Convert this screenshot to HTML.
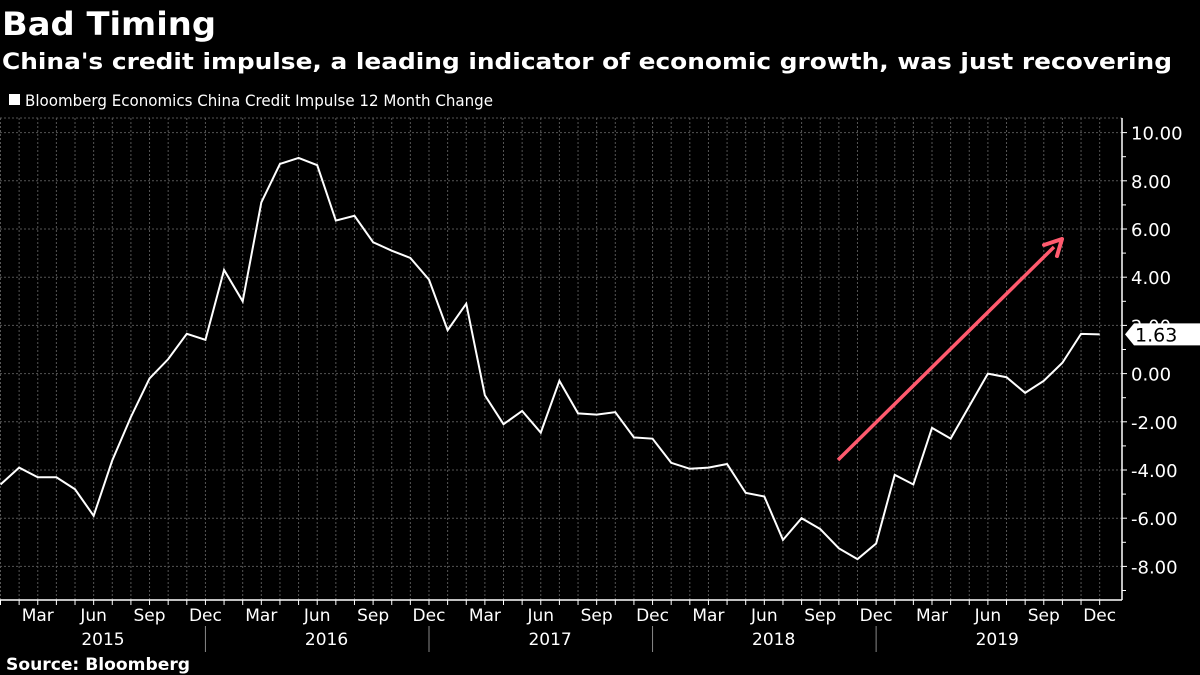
<!DOCTYPE html>
<html><head><meta charset="utf-8"><style>
html,body{margin:0;padding:0;background:#000;width:1200px;height:675px;overflow:hidden}
svg{display:block;font-family:"DejaVu Sans","Liberation Sans",sans-serif}
</style></head><body>
<svg id="chart" width="1200" height="675" viewBox="0 0 1200 675">
<text x="2" y="35" fill="#fff" font-size="32" font-weight="bold" textLength="214" lengthAdjust="spacingAndGlyphs">Bad Timing</text>
<text x="2" y="69" fill="#fff" font-size="22" font-weight="bold" textLength="1170" lengthAdjust="spacingAndGlyphs">China's credit impulse, a leading indicator of economic growth, was just recovering</text>
<rect x="9" y="94" width="11" height="11" fill="#fff"/>
<text x="25" y="106" fill="#fff" font-size="16" textLength="468" lengthAdjust="spacingAndGlyphs">Bloomberg Economics China Credit Impulse 12 Month Change</text>
<g id="grid"></g><g id="axes"></g><g id="series"></g>
<text x="6" y="670" fill="#fff" font-size="17" font-weight="bold" textLength="184" lengthAdjust="spacingAndGlyphs">Source: Bloomberg</text>
</svg>
<script>
const monthLabels=["Jan","Feb","Mar","Apr","May","Jun","Jul","Aug","Sep","Oct","Nov","Dec"];
const years=["2015","2016","2017","2018","2019"];
const yTicks=[10,8,6,4,2,0,-2,-4,-6,-8];
const values=[-4.6,-3.9,-4.3,-4.3,-4.8,-5.9,-3.6,-1.8,-0.2,0.6,1.65,1.4,
4.3,3.0,7.1,8.7,8.95,8.65,6.35,6.55,5.45,5.1,4.8,3.9,
1.8,2.9,-0.9,-2.1,-1.55,-2.45,-0.3,-1.65,-1.7,-1.6,-2.65,-2.7,
-3.7,-3.95,-3.9,-3.75,-4.95,-5.1,-6.9,-6.0,-6.45,-7.25,-7.7,-7.05,
-4.2,-4.6,-2.25,-2.7,-1.35,0.0,-0.15,-0.8,-0.3,0.45,1.65,1.63];
const lastLabel="1.63";
const NS="http://www.w3.org/2000/svg";
const X0=0.5,DX=18.63,Y0=373.6,DY=24.1,TOP=118,BOT=600,RIGHT=1122;
const xs=i=>X0+i*DX, ys=v=>Y0-v*DY;
function mk(t,a,p){const e=document.createElementNS(NS,t);for(const k in a)e.setAttribute(k,a[k]);p.appendChild(e);return e;}
const grid=document.getElementById('grid'),axes=document.getElementById('axes'),ser=document.getElementById('series');
const n=years.length*12;
for(let i=0;i<n;i++){const g=mk('line',{x1:xs(i),x2:xs(i),y1:TOP,y2:BOT,stroke:'#555','stroke-dasharray':'2,2','stroke-width':1},grid);


const t=mk('line',{x1:xs(i),x2:xs(i),y1:BOT,y2:BOT+5,stroke:'#fff'},axes);


if(i%3==2){const l=mk('text',{x:xs(i),y:BOT+21,fill:'#fff','font-size':17,'text-anchor':'middle'},axes);l.textContent=monthLabels[i%12];

}}
mk('line',{x1:0,x2:RIGHT,y1:TOP,y2:TOP,stroke:'#555','stroke-dasharray':'2,2'},grid);
years.forEach((y,k)=>{const l=mk('text',{x:xs(k*12+5.5),y:BOT+45,fill:'#fff','font-size':17,'text-anchor':'middle'},axes);l.textContent=y;


if(k<years.length-1){const s=mk('line',{x1:xs(k*12+11),x2:xs(k*12+11),y1:BOT+26,y2:BOT+52,stroke:'#888'},axes);

}});
yTicks.forEach(v=>{const g=mk('line',{x1:0,x2:RIGHT,y1:ys(v),y2:ys(v),stroke:'#555','stroke-dasharray':'2,2'},grid);


mk('line',{x1:RIGHT,x2:RIGHT+5,y1:ys(v),y2:ys(v),stroke:'#fff'},axes);
mk('line',{x1:RIGHT,x2:RIGHT+4,y1:ys(v-1),y2:ys(v-1),stroke:'#fff'},axes);
const l=mk('text',{x:RIGHT+9,y:ys(v)+7,fill:'#fff','font-size':18},axes);l.textContent=v.toFixed(2);

});
const xa=mk('line',{x1:0,x2:RIGHT,y1:BOT,y2:BOT,stroke:'#fff','stroke-width':1.5},axes);


const ya=mk('line',{x1:RIGHT,x2:RIGHT,y1:TOP,y2:BOT,stroke:'#fff','stroke-width':1.5},axes);


const line=mk('polyline',{points:values.map((v,i)=>xs(i)+','+ys(v)).join(' '),fill:'none',stroke:'#fff','stroke-width':2},ser);


const ly=ys(values[values.length-1]);
const box=mk('path',{d:`M1125 ${ly} L1134 ${ly-11} L1200 ${ly-11} L1200 ${ly+11} L1134 ${ly+11} Z`,fill:'#fff'},ser);


const lt=mk('text',{x:1135,y:ly+7,fill:'#000','font-size':19},ser);lt.textContent=lastLabel;


const ar=mk('line',{x1:838,y1:460,x2:1054,y2:247,stroke:'#ff5a6e','stroke-width':3.5},ser);


const ah=mk('path',{d:'M1062 239 L1044 245 M1062 239 L1057 256',stroke:'#ff5a6e','stroke-width':4,fill:'none','stroke-linecap':'round'},ser);


</script>
</body></html>
